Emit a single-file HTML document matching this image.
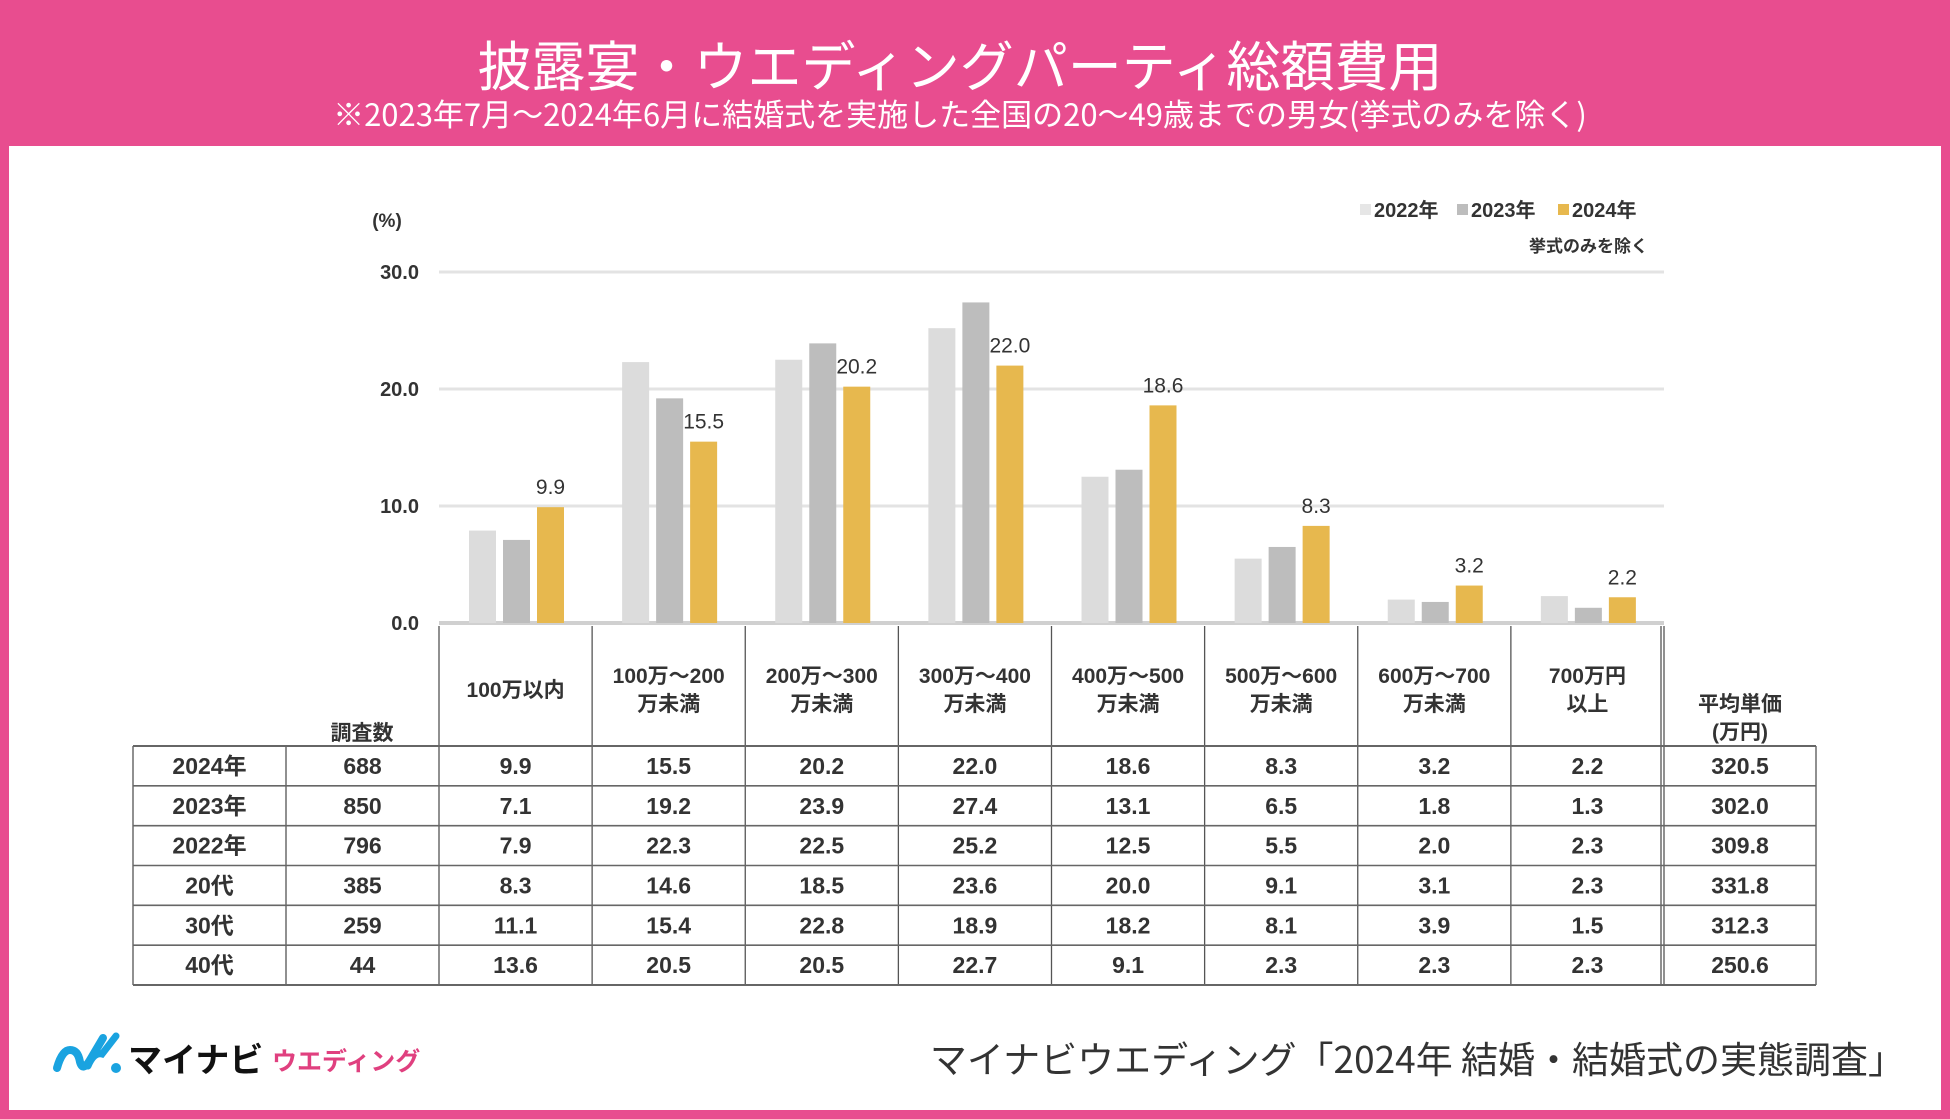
<!DOCTYPE html>
<html><head><meta charset="utf-8"><style>
html,body{margin:0;padding:0;background:#e84d8f;}
svg{display:block;font-family:"Liberation Sans","Noto Sans CJK JP",sans-serif;}
</style></head><body>
<svg id="c" width="1950" height="1119" viewBox="0 0 1950 1119" xmlns="http://www.w3.org/2000/svg">
<rect x="0" y="0" width="1950" height="1119" fill="#e84d8f"/>
<rect x="9" y="146" width="1932" height="964" fill="#ffffff"/>
<text x="960" y="86" text-anchor="middle" font-size="54" fill="#fff" font-family="Noto Sans CJK JP, sans-serif">披露宴・ウエディングパーティ総額費用</text>
<text x="960" y="126" text-anchor="middle" font-size="31" fill="#fff" font-family="Noto Sans CJK JP, sans-serif">※2023年7月～2024年6月に結婚式を実施した全国の20～49歳までの男女(挙式のみを除く)</text>
<text x="387" y="227" text-anchor="middle" font-size="19" font-weight="bold" fill="#333">(%)</text>
<g id="grid"></g>
<g id="bars"></g>
<g id="table"></g>
<g>
<rect x="1360" y="204" width="11" height="11" fill="#e6e6e6"/>
<text x="1374" y="217" font-size="20" font-weight="bold" fill="#333">2022年</text>
<rect x="1457" y="204" width="11" height="11" fill="#bdbdbd"/>
<text x="1471" y="217" font-size="20" font-weight="bold" fill="#333">2023年</text>
<rect x="1558" y="204" width="11" height="11" fill="#e7b84e"/>
<text x="1572" y="217" font-size="20" font-weight="bold" fill="#333">2024年</text>
<text x="1648" y="252" text-anchor="end" font-size="17" font-weight="bold" fill="#333">挙式のみを除く</text>
</g>
<g>
<path d="M57 1068 Q62 1050 70 1050 Q78 1050 80 1062 Q83 1072 90 1060 L103 1038" fill="none" stroke="#1aa3e0" stroke-width="8" stroke-linecap="round"/>
<path d="M88 1066 Q94 1052 102 1054 L116 1036" fill="none" stroke="#1aa3e0" stroke-width="7" stroke-linecap="round"/>
<circle cx="116" cy="1068" r="5" fill="#1aa3e0"/>
<text x="128" y="1072" font-size="34" font-weight="bold" fill="#111" font-family="Noto Sans CJK JP, sans-serif">マイナビ</text>
<text x="272" y="1070" font-size="25" fill="#e0407f" font-family="Noto Sans CJK JP, sans-serif" font-weight="bold">ウエディング</text>
</g>
<text x="1905" y="1073" text-anchor="end" font-size="37" fill="#333" font-family="Noto Sans CJK JP, sans-serif">マイナビウエディング「2024年 結婚・結婚式の実態調査」</text>
</svg>
<script>
const categories=["100万以内","100万～200万未満","200万～300万未満","300万～400万未満","400万～500万未満","500万～600万未満","600万～700万未満","700万円以上"];
const headLine1=["100万以内","100万～200","200万～300","300万～400","400万～500","500万～600","600万～700","700万円"];
const headLine2=["","万未満","万未満","万未満","万未満","万未満","万未満","以上"];
const s2022=[7.9,22.3,22.5,25.2,12.5,5.5,2.0,2.3];
const s2023=[7.1,19.2,23.9,27.4,13.1,6.5,1.8,1.3];
const s2024=[9.9,15.5,20.2,22.0,18.6,8.3,3.2,2.2];
const yTicks=[0,10,20,30];
const rowLabels=["2024年","2023年","2022年","20代","30代","40代"];
const rowCounts=[688,850,796,385,259,44];
const rowValues=[
[9.9,15.5,20.2,22.0,18.6,8.3,3.2,2.2],
[7.1,19.2,23.9,27.4,13.1,6.5,1.8,1.3],
[7.9,22.3,22.5,25.2,12.5,5.5,2.0,2.3],
[8.3,14.6,18.5,23.6,20.0,9.1,3.1,2.3],
[11.1,15.4,22.8,18.9,18.2,8.1,3.9,1.5],
[13.6,20.5,20.5,22.7,9.1,2.3,2.3,2.3]];
const rowAvg=["320.5","302.0","309.8","331.8","312.3","250.6"];

const NS="http://www.w3.org/2000/svg";
const X0=439,X1=1664,Y0=623,Y30=272;
const gw=(X1-X0)/categories.length;
const y=v=>Y0-(v/30)*(Y0-Y30);
const gx=i=>X0+i*gw;
function mk(tag,parent,attrs){const e=document.createElementNS(NS,tag);for(const k in attrs)e.setAttribute(k,attrs[k]);parent.appendChild(e);return e;}
const grid=document.getElementById('grid'),bars=document.getElementById('bars'),table=document.getElementById('table');
yTicks.forEach(t=>{
  const l=mk('line',grid,{x1:X0,x2:X1,y1:y(t),y2:y(t),stroke:t===0?'#d0d0d0':'#e3e3e3','stroke-width':t===0?4:3});
  
  
  const tx=mk('text',grid,{x:419,y:y(t)+7,'text-anchor':'end','font-size':20,'font-weight':'bold',fill:'#333'});
  tx.textContent=t.toFixed(1);
  
  
});
const series=[[s2022,'#dcdcdc',30],[s2023,'#bdbdbd',64],[s2024,'#e7b84e',98]];
const bw=27;
categories.forEach((c,i)=>{
  series.forEach(([arr,col,off],si)=>{
    const r=mk('rect',bars,{x:gx(i)+off,y:y(arr[i]),width:bw,height:Y0-y(arr[i]),fill:col});
    
    
  });
  const lb=mk('text',bars,{x:gx(i)+98+bw/2,y:y(s2024[i])-13,'text-anchor':'middle','font-size':21,fill:'#333'});
  lb.textContent=s2024[i].toFixed(1);
  
  
});
const TL=133,TC=286,HT=626,RT=746,RB=985,RR=1816;
const rh=(RB-RT)/rowLabels.length;
function line(x1,y1,x2,y2,w,c){const l=mk('line',table,{x1,y1,x2,y2,stroke:c||'#555','stroke-width':w||1.3});}
function txt(x,yy,s,fs,name){const t=mk('text',table,{x,y:yy,'text-anchor':'middle','font-size':fs||23,'font-weight':'bold',fill:'#333'});t.textContent=s;}
for(let i=0;i<=categories.length;i++){line(gx(i),HT,gx(i),RB);}
line(X1-3,HT,X1-3,RB);
line(TL,RT,TL,RB);line(TC,RT,TC,RB);line(RR,RT,RR,RB);
for(let r=0;r<=rowLabels.length;r++){line(TL,RT+r*rh,RR,RT+r*rh,r===0||r===rowLabels.length?2:1.6,'#666');}
categories.forEach((c,i)=>{
  const cx=gx(i)+gw/2;
  if(headLine2[i]===''){txt(cx,697,headLine1[i],21,'column-header');}
  else{txt(cx,683,headLine1[i],21,'column-header');txt(cx,711,headLine2[i],21,'column-header');}
});
txt(362,740,'調査数',21,'count-header');
txt(1740,711,'平均単価',21,'avg-header');
txt(1740,739,'(万円)',21,'avg-header-unit');
rowLabels.forEach((lab,r)=>{
  const cy=RT+r*rh+rh/2+8;
  txt((TL+TC)/2,cy,lab,23,'row-label');
  txt((TC+X0)/2,cy,String(rowCounts[r]),23,'row-count');
  rowValues[r].forEach((v,i)=>txt(gx(i)+gw/2,cy,v.toFixed(1),23,'table-cell'));
  txt((X1+RR)/2,cy,rowAvg[r],23,'row-average');
});
</script>
</body></html>
